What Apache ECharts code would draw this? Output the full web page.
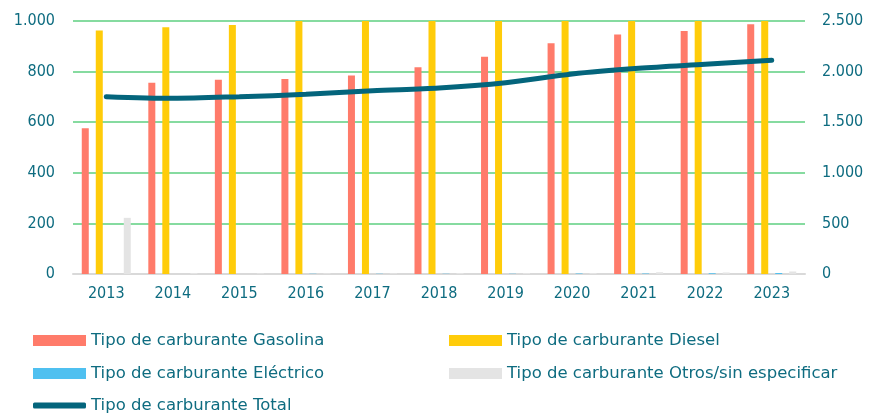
<!DOCTYPE html>
<html>
<head>
<meta charset="utf-8">
<script src="https://cdn.jsdelivr.net/npm/echarts@6/dist/echarts.min.js"></script>
<style>
  html, body { margin: 0; padding: 0; background: #fff; }
  #chart { width: 870px; height: 413px; }
</style>
</head>
<body>
<div id="chart"></div>
<script>
const years = ['2013', '2014', '2015', '2016', '2017', '2018', '2019', '2020', '2021', '2022', '2023']
const gasolina = [576, 756, 768, 771, 785, 817, 859, 912, 947, 960, 987]
const diesel = [962, 975, 984, 1002, 1024, 1018, 1025, 1058, 1075, 1100, 1115]
const electrico = [0, 0, 0, 1, 1, 1, 1, 2, 2, 3, 4]
const otros = [222, 4, 3, 3, 3, 4, 4, 4, 7, 6, 10]
const total = [1752, 1736, 1752, 1775, 1811, 1838, 1890, 1976, 2032, 2072, 2112]
const leftTicks = [0, 200, 400, 600, 800, 1000]
const rightTicks = [0, 500, 1000, 1500, 2000, 2500]

const names = [
  'Tipo de carburante Gasolina',
  'Tipo de carburante Diesel',
  'Tipo de carburante Eléctrico',
  'Tipo de carburante Otros/sin especificar',
  'Tipo de carburante Total'
]

const teal = '#0E6C80'
const font = 'DejaVu Sans Condensed'

// formatea miles con punto
const fmt = (v) => String(v).replace(/\B(?=(\d{3})+(?!\d))/g, '.')

const legendBox = (name, left, top, extra) =>
  Object.assign({
    data: [name],
    left: left,
    top: top,
    icon: 'rect',
    itemWidth: 53,
    itemHeight: 11,
    itemGap: 0,
    selectedMode: false,
    textStyle: { fontFamily: 'DejaVu Sans', fontSize: 16.5, color: teal }
  }, extra || {})

const chart = echarts.init(document.getElementById('chart'))
const option = {
  animation: false,
  textStyle: { fontFamily: font },
  grid: { left: 73, right: 65, top: 21, bottom: 139 },
  legend: [
    legendBox(names[0], 28, 327),
    legendBox(names[1], 444, 327),
    legendBox(names[2], 28, 360),
    legendBox(names[3], 444, 360),
    legendBox(names[4], 28, 392, { icon: 'roundRect', itemHeight: 6 })
  ],
  xAxis: {
    type: 'category',
    data: years,
    axisLine: { lineStyle: { color: '#D9D9D9', width: 2 } },
    axisTick: { length: 6, lineStyle: { color: '#D9D9D9', width: 2 } },
    axisLabel: { color: teal, fontSize: 16, margin: 12, fontFamily: font }
  },
  yAxis: [
    {
      type: 'value',
      min: leftTicks[0],
      max: leftTicks[leftTicks.length - 1],
      interval: 200,
      axisLine: { show: false },
      axisTick: { show: false },
      axisLabel: { color: teal, fontSize: 16, margin: 18, fontFamily: font, formatter: fmt },
      splitLine: { lineStyle: { color: '#86DBA0', width: 2 } }
    },
    {
      type: 'value',
      min: rightTicks[0],
      max: rightTicks[rightTicks.length - 1],
      interval: 500,
      axisLine: { show: false },
      axisTick: { show: false },
      axisLabel: { color: teal, fontSize: 16, margin: 17, fontFamily: font, formatter: fmt },
      splitLine: { show: false }
    }
  ],
  series: [
    { name: names[0], type: 'bar', data: gasolina, barWidth: 7, barGap: '100%', itemStyle: { color: '#FF7B6A' } },
    { name: names[1], type: 'bar', data: diesel, barWidth: 7, barGap: '100%', itemStyle: { color: '#FFCC0A' } },
    { name: names[2], type: 'bar', data: electrico, barWidth: 7, barGap: '100%', itemStyle: { color: '#4FC0F0' } },
    { name: names[3], type: 'bar', data: otros, barWidth: 7, barGap: '100%', itemStyle: { color: '#E4E4E4' } },
    {
      name: names[4],
      type: 'line',
      yAxisIndex: 1,
      data: total,
      smooth: 0.3,
      symbol: 'none',
      z: 5,
      lineStyle: { color: '#04657C', width: 5, cap: 'round' },
      itemStyle: { color: '#04657C' }
    }
  ]
}
chart.setOption(option)
</script>
</body>
</html>
